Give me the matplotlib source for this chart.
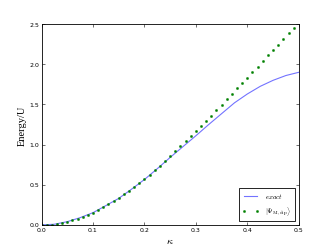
import matplotlib
matplotlib.use("Agg")
import matplotlib.pyplot as plt

plt.style.use('classic')

# exact curve
kappa_exact = [0.0, 0.025, 0.05, 0.075, 0.1, 0.125, 0.15, 0.175, 0.2, 0.225, 0.25,
               0.275, 0.3, 0.325, 0.35, 0.375, 0.4, 0.425, 0.45, 0.475, 0.5]
energy_exact = [0.0, 0.008, 0.04, 0.09, 0.152, 0.24, 0.33, 0.445, 0.565, 0.70, 0.84,
                0.975, 1.11, 1.25, 1.385, 1.52, 1.63, 1.725, 1.80, 1.86, 1.90]

# variational points
kappa_dip = [i / 100 for i in range(50)]
energy_dip = [0.0, 0.002, 0.004, 0.012, 0.025, 0.042, 0.058, 0.079, 0.10, 0.129,
              0.154, 0.183, 0.22, 0.258, 0.295, 0.333, 0.379, 0.42, 0.47, 0.52,
              0.574, 0.624, 0.678, 0.736, 0.795, 0.853, 0.915, 0.978, 1.044, 1.107,
              1.17, 1.23, 1.29, 1.36, 1.43, 1.49, 1.564, 1.63, 1.70, 1.764,
              1.835, 1.905, 1.97, 2.04, 2.11, 2.18, 2.24, 2.31, 2.39, 2.45]

fig = plt.figure(figsize=(3.32, 2.51), dpi=100, facecolor='white')
ax = fig.add_subplot(111)
ax.plot(kappa_exact, energy_exact, color='b', alpha=0.55, lw=0.8, label=r'$exact$')
ax.plot(kappa_dip, energy_dip, 'o', color='g', markersize=1.6, markeredgewidth=0.3,
        markeredgecolor='g', label=r'$|\Psi_{\rm M,dip}\rangle$')
ax.set_xlim(0, 0.5)
ax.set_ylim(0, 2.5)
ax.set_xticks([0.0, 0.1, 0.2, 0.3, 0.4, 0.5])
ax.set_yticks([0.0, 0.5, 1.0, 1.5, 2.0, 2.5])
ax.tick_params(labelsize=4.5, length=2, width=0.4, pad=1.5)
for s in ax.spines.values():
    s.set_linewidth(0.6)
ax.set_xlabel(r'$\kappa$', fontsize=7.5, labelpad=2)
ax.set_ylabel('Energy/U', fontsize=7.5, family='Liberation Serif', labelpad=2)
leg = ax.legend(loc='lower right', fontsize=5, numpoints=2, handlelength=2.5,
                borderpad=0.5, labelspacing=0.6, fancybox=False, borderaxespad=0.6)
leg.get_frame().set_linewidth(0.6)
fig.savefig('out.png', dpi=100, facecolor='white')
